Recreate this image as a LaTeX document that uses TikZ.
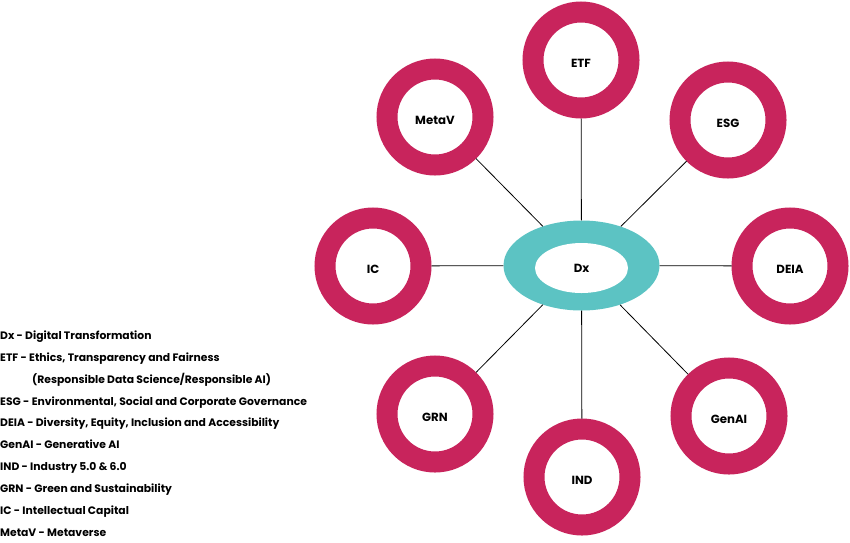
\documentclass[tikz,border=0pt]{standalone}
\usepackage{fontspec}
\setmainfont{Poppins}
\usepackage{tikz}
\usetikzlibrary{shapes.geometric}

\definecolor{ringred}{RGB}{200,36,92}
\definecolor{hubteal}{RGB}{92,195,195}

\begin{document}
\begin{tikzpicture}[x=1pt, y=-1pt,
  ring/.style={circle, draw=ringred, line width=21pt, fill=white, minimum size=96pt,
    text height=14pt, text depth=0pt, font=\fontsize{11.8}{13}\selectfont\bfseries},
  hubout/.style={ellipse, fill=hubteal, minimum width=156pt, minimum height=90pt, inner sep=0pt},
  hubin/.style={ellipse, fill=white, minimum width=93pt, minimum height=50pt, inner sep=0pt,
    font=\fontsize{11.8}{13}\selectfont\bfseries},
  link/.style={draw=black, line width=0.8pt},
  key/.style={anchor=base west, inner sep=0pt, font=\fontsize{10.8}{13}\selectfont\bfseries}
]
\useasboundingbox (0,0) rectangle (850,542);

% hub and spokes
\node[hubout] (dx) at (581.5, 265.5) {};
\node[ring] (etf) at (581, 60) {ETF};
\node[ring] (esg) at (728, 120) {ESG};
\node[ring] (deia) at (790, 266) {DEIA};
\node[ring] (genai) at (729, 416) {GenAI};
\node[ring] (ind) at (582, 477) {IND};
\node[ring] (grn) at (435, 414) {GRN};
\node[ring] (ic) at (373, 266) {IC};
\node[ring] (metav) at (435, 117) {MetaV};
\draw[link] (dx) -- (etf);
\draw[link] (dx) -- (esg);
\draw[link] (dx) -- (deia);
\draw[link] (dx) -- (genai);
\draw[link] (dx) -- (ind);
\draw[link] (dx) -- (grn);
\draw[link] (dx) -- (ic);
\draw[link] (dx) -- (metav);
\node[hubin] (dxin) at (581.5, 268) {Dx};

% legend
\node[key] (k1) at (0, 339.5) {Dx - Digital Transformation};
\node[key] (k2) at (0, 361.3) {ETF - Ethics, Transparency and Fairness};
\node[key] (k3) at (32, 383.2) {(Responsible Data Science/Responsible AI)};
\node[key] (k4) at (0, 405.0) {ESG - Environmental, Social and Corporate Governance};
\node[key] (k5) at (0, 426.8) {DEIA - Diversity, Equity, Inclusion and Accessibility};
\node[key] (k6) at (0, 448.7) {GenAI - Generative AI};
\node[key] (k7) at (0, 470.5) {IND - Industry 5.0 \& 6.0};
\node[key] (k8) at (0, 492.3) {GRN - Green and Sustainability};
\node[key] (k9) at (0, 514.2) {IC - Intellectual Capital};
\node[key] (k10) at (0, 536.0) {MetaV - Metaverse};

\end{tikzpicture}
\end{document}
